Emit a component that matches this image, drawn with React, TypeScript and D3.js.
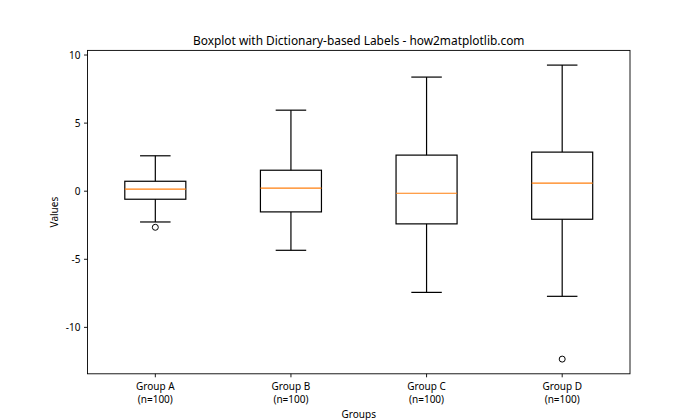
import React from "react";
import * as d3 from "d3";

const categories = ["Group A", "Group B", "Group C", "Group D"];
const counts = [100, 100, 100, 100];
const whiskerLow = [-2.26, -4.34, -7.43, -7.72];
const q1 = [-0.59, -1.52, -2.4, -2.06];
const medians = [0.15, 0.22, -0.15, 0.59];
const q3 = [0.73, 1.54, 2.65, 2.87];
const whiskerHigh = [2.6, 5.95, 8.38, 9.26];
const outliers: number[][] = [[-2.65], [], [], [-12.33]];
const yTicks = [-10, -5, 0, 5, 10];

const W = 700, H = 420;
const left = 87.5, right = 630, top = 50.4, bottom = 373.8;
const FONT = "'Noto Sans', 'Open Sans', sans-serif";

export default function App() {
  const allVals = [...whiskerLow, ...whiskerHigh, ...outliers.flat()];
  const mn = d3.min(allVals)!, mx = d3.max(allVals)!;
  const pad = (mx - mn) * 0.05;
  const y = d3.scaleLinear().domain([mn - pad, mx + pad]).range([bottom, top]);
  const x = d3.scaleLinear().domain([0.5, categories.length + 0.5]).range([left, right]);
  const bw = x(1.45) - x(1);
  return (
    <svg width={W} height={H} style={{ position: "absolute", left: 0, top: 0, background: "#fff" }} fontFamily={FONT}>
      <rect width={W} height={H} fill="#fff" />
      <text x={(left + right) / 2} y={45} textAnchor="middle" fontSize={11.9} fill="#000">
        Boxplot with Dictionary-based Labels - how2matplotlib.com
      </text>
      {categories.map((c, i) => {
        const cx = x(i + 1);
        return (
          <g key={c} stroke="#000" strokeWidth={1.2} fill="none">
            <line x1={cx} x2={cx} y1={y(q3[i])} y2={y(whiskerHigh[i])} />
            <line x1={cx} x2={cx} y1={y(q1[i])} y2={y(whiskerLow[i])} />
            <line x1={cx - bw / 4} x2={cx + bw / 4} y1={y(whiskerHigh[i])} y2={y(whiskerHigh[i])} />
            <line x1={cx - bw / 4} x2={cx + bw / 4} y1={y(whiskerLow[i])} y2={y(whiskerLow[i])} />
            <rect x={cx - bw / 2} y={y(q3[i])} width={bw} height={y(q1[i]) - y(q3[i])} />
            <line x1={cx - bw / 2} x2={cx + bw / 2} y1={y(medians[i])} y2={y(medians[i])} stroke="#ff7f0e" />
            {outliers[i].map((o, j) => (
              <circle key={j} cx={cx} cy={y(o)} r={3} stroke="#000" strokeWidth={1} />
            ))}
          </g>
        );
      })}
      <rect x={left} y={top} width={right - left} height={bottom - top} fill="none" stroke="#000" strokeWidth={0.9} />
      {yTicks.map((t) => (
        <g key={t}>
          <line x1={left - 3.5} x2={left} y1={y(t)} y2={y(t)} stroke="#000" strokeWidth={0.9} />
          <text x={left - 7} y={y(t)} dy="0.35em" textAnchor="end" fontSize={10} fill="#000">{t}</text>
        </g>
      ))}
      {categories.map((c, i) => (
        <g key={c}>
          <line x1={x(i + 1)} x2={x(i + 1)} y1={bottom} y2={bottom + 3.5} stroke="#000" strokeWidth={0.9} />
          <text x={x(i + 1)} y={390} textAnchor="middle" fontSize={10} fill="#000">{c}</text>
          <text x={x(i + 1)} y={403} textAnchor="middle" fontSize={10} fill="#000">{`(n=${counts[i]})`}</text>
        </g>
      ))}
      <text x={(left + right) / 2} y={418} textAnchor="middle" fontSize={10} fill="#000">Groups</text>
      <text transform={`translate(58,${(top + bottom) / 2}) rotate(-90)`} textAnchor="middle" fontSize={10} fill="#000">Values</text>
    </svg>
  );
}
